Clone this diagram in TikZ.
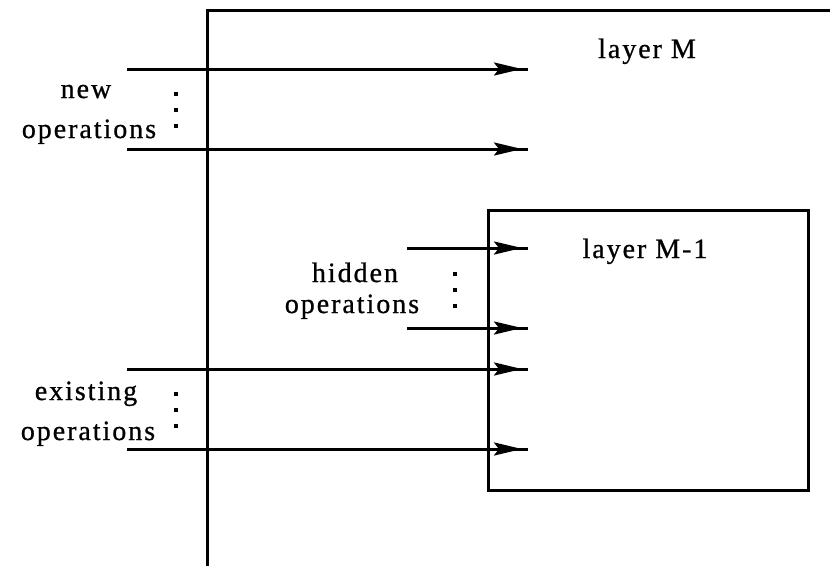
\documentclass[tikz,border=0pt]{standalone}
\usepackage{fontspec}
\setmainfont{Liberation Serif}[LetterSpace=7,FakeBold=0.8]
\usetikzlibrary{arrows.meta,decorations.markings}

\tikzset{
  frame/.style={line width=3pt},
  wire/.style={line width=3pt, postaction={decorate},
    decoration={markings, mark=at position -6pt with
      {\arrow{Stealth[length=28pt,width=13pt,inset=5pt]}}}},
  lbl/.style={font=\fontsize{28}{30}\selectfont, inner sep=0pt, anchor=base},
  dot/.style={fill, inner sep=0pt, minimum size=3.5pt},
}

\begin{document}
\begin{tikzpicture}[x=1pt,y=-1pt]
  \useasboundingbox (0,0) rectangle (830,566);

  % outer layer boundary (open to the right and bottom)
  \coordinate (outerB) at (207,566);
  \coordinate (outerTL) at (207,10);
  \coordinate (outerR) at (832,10);
  \draw[frame] (outerB) -- (outerTL) -- (outerR);

  % inner layer box
  \node[draw, frame, minimum width=320pt, minimum height=280pt, anchor=north west]
    (inner) at (487,209) {};

  \node[lbl] (layerM) at (647,58) {layer M};
  \node[lbl] (layerM1) at (645,258) {layer M-1};

  % new operations
  \coordinate (n1s) at (127,69);  \coordinate (n1e) at (528,69);
  \coordinate (n2s) at (127,149); \coordinate (n2e) at (528,149);
  \draw[wire] (n1s) -- (n1e);
  \draw[wire] (n2s) -- (n2e);
  \node[lbl] (newA) at (86,98) {new};
  \node[lbl] (newB) at (89,138) {operations};
  \node[dot] (nd1) at (176,94) {};
  \node[dot] (nd2) at (176,110) {};
  \node[dot] (nd3) at (176,126) {};

  % hidden operations
  \coordinate (h1s) at (407,248); \coordinate (h1e) at (528,248);
  \coordinate (h2s) at (407,328); \coordinate (h2e) at (528,328);
  \draw[wire] (h1s) -- (h1e);
  \draw[wire] (h2s) -- (h2e);
  \node[lbl] (hidA) at (355,282) {hidden};
  \node[lbl] (hidB) at (352,313) {operations};
  \node[dot] (hd1) at (455,274) {};
  \node[dot] (hd2) at (455,290) {};
  \node[dot] (hd3) at (455,306) {};

  % existing operations
  \coordinate (e1s) at (127,369); \coordinate (e1e) at (528,369);
  \coordinate (e2s) at (127,449); \coordinate (e2e) at (528,449);
  \draw[wire] (e1s) -- (e1e);
  \draw[wire] (e2s) -- (e2e);
  \node[lbl] (exA) at (86,400) {existing};
  \node[lbl] (exB) at (88,440) {operations};
  \node[dot] (ed1) at (176,394) {};
  \node[dot] (ed2) at (176,410) {};
  \node[dot] (ed3) at (176,426) {};
\end{tikzpicture}
\end{document}
